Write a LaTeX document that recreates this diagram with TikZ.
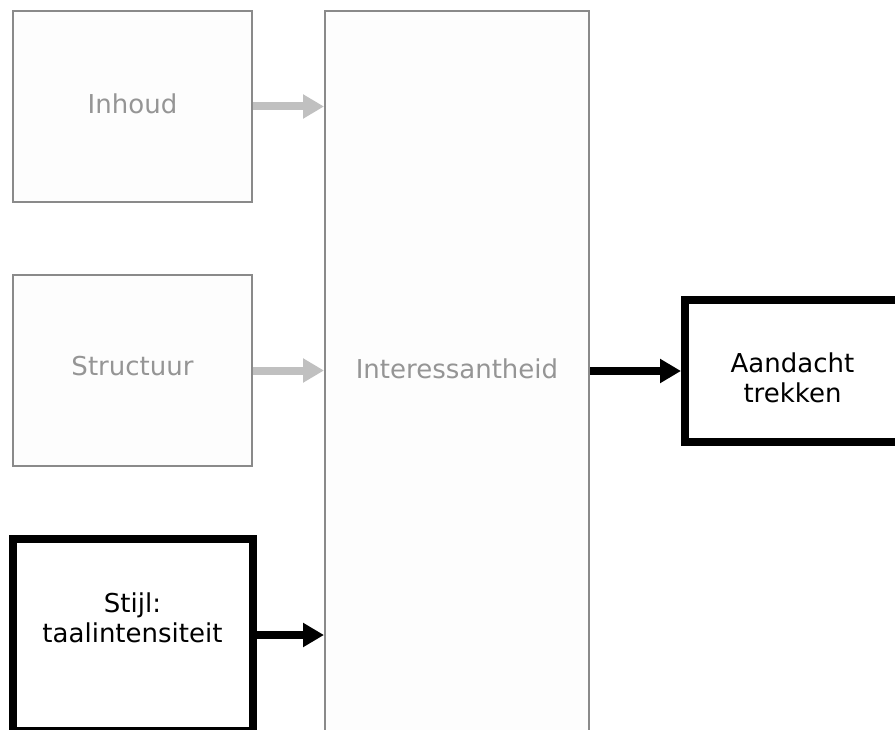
\documentclass[tikz,border=0pt]{standalone}
\usepackage{fontspec}
\setmainfont{DejaVu Sans}
\usetikzlibrary{arrows.meta}

\definecolor{boxgray}{HTML}{8A8A8A}
\definecolor{textgray}{HTML}{959595}
\definecolor{arrowgray}{HTML}{C0C0C0}
\definecolor{paper}{HTML}{FDFDFD}

\tikzset{
  base/.style={rectangle, inner sep=0pt},
  faded/.style={base, draw=boxgray, line width=2pt, fill=paper},
  strong/.style={base, draw=black, line width=8pt, fill=white},
  caption/.style={inner sep=0pt, align=center,
    font=\fontsize{26}{30.6}\selectfont},
  fadedtext/.style={caption, text=textgray},
  strongtext/.style={caption, text=black},
  flowgray/.style={draw=arrowgray, line width=8pt, -{Triangle[length=21pt,width=23pt]}},
  flowblack/.style={draw=black, line width=8pt, -{Triangle[length=21pt,width=23pt]}},
}

\begin{document}
\begin{tikzpicture}[x=1pt, y=-1pt]
  \useasboundingbox (0,0) rectangle (895,730);
  \clip (0,0) rectangle (895,730);

  % inputs on the left
  \node[faded, minimum width=239pt, minimum height=191pt] (inhoud) at (132.5,106.5) {};
  \node[faded, minimum width=239pt, minimum height=191pt] (structuur) at (132.5,370.5) {};
  \node[strong, minimum width=240pt, minimum height=192pt] (stijl) at (132.5,635) {};

  % central construct
  \node[faded, minimum width=264pt, minimum height=720pt] (interesse) at (457,371) {};

  % outcome on the right
  \node[strong, minimum width=215pt, minimum height=142.5pt] (aandacht) at (792.5,371) {};

  % box captions
  \node[fadedtext] (inhoudtxt) at (132.5,103.5) {Inhoud};
  \node[fadedtext] (structuurtxt) at (132.5,366.5) {Structuur};
  \node[fadedtext] (interessetxt) at (457,368.5) {Interessantheid};
  \node[strongtext] (stijltxt) at (132.5,618) {Stijl:\\taalintensiteit};
  \node[strongtext] (aandachttxt) at (792.5,378) {Aandacht\\trekken};

  % connectors
  \draw[flowgray] (inhoud.east) -- (inhoud.east -| interesse.west);
  \draw[flowgray] (structuur.east) -- (structuur.east -| interesse.west);
  \draw[flowblack] (stijl.east) -- (stijl.east -| interesse.west);
  \draw[flowblack] (interesse.east |- aandacht.west) -- (aandacht.west);
\end{tikzpicture}
\end{document}
